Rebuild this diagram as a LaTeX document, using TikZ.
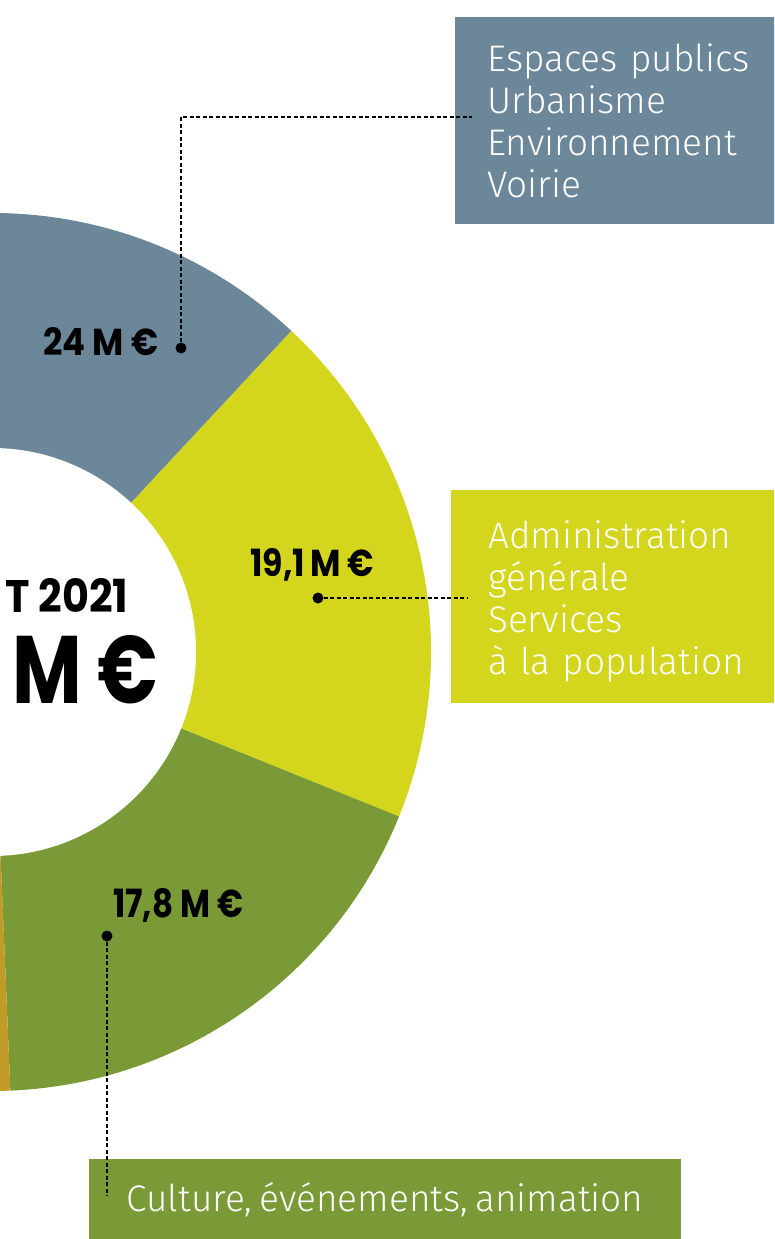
\documentclass[tikz,border=0pt]{standalone}
\usepackage{fontspec}
\setmainfont{Fira Sans}
\newfontfamily\lightf{Fira Sans Light}[WordSpace=0.7]
\newfontfamily\numf{Poppins}
\definecolor{cblue}{HTML}{6B8799}
\definecolor{cyel}{HTML}{D4D61D}
\definecolor{cgreen}{HTML}{799A36}
\definecolor{corange}{HTML}{C09B28}
\tikzset{
  catbox/.style={anchor=north west, text=white, inner ysep=0pt, align=left,
    font=\lightf\fontsize{37}{42}\selectfont},
  dotnode/.style={circle, fill=black, inner sep=0pt, minimum size=11pt},
  lead/.style={draw=black, line width=1.1pt, dash pattern=on 4pt off 2.5pt},
  valtext/.style={inner sep=0pt, anchor=base west, font=\numf\bfseries}
}
\begin{document}
\begin{tikzpicture}[x=1pt,y=-1pt]
\useasboundingbox (0,0) rectangle (774,1239);
\begin{scope}
\clip (0,0) rectangle (774,1239);
\coordinate (C) at (-8,652);
\fill[cblue]   (C) -- ++(-47:439) arc[start angle=-47, end angle=-200, radius=439] -- cycle;
\fill[cyel]    (C) -- ++(22:439) arc[start angle=22, end angle=-47, radius=439] -- cycle;
\fill[cgreen]  (C) -- ++(87.6:439) arc[start angle=87.6, end angle=22, radius=439] -- cycle;
\fill[corange] (C) -- ++(140:439) arc[start angle=140, end angle=87.6, radius=439] -- cycle;
\fill[white] (C) circle[radius=204];

\node[catbox, fill=cblue, minimum height=207pt, text width=290pt, inner xsep=32pt] (b1) at (455,17)
  {\rule{0pt}{28pt}Espaces publics\\Urbanisme\\Environnement\\Voirie};
\node[catbox, fill=cyel, minimum height=213pt, text width=290pt, inner xsep=37pt] (b2) at (451,490)
  {\rule{0pt}{37pt}Administration\\générale\\Services\\à la population};
\node[catbox, fill=cgreen, minimum height=80pt, minimum width=592pt, inner xsep=0pt, align=center] (b3) at (89,1159)
  {\rule{0pt}{30pt}Culture, événements, animation};

\node[dotnode] (d1) at (181,348) {};
\node[dotnode] (d2) at (318,598) {};
\node[dotnode] (d3) at (107,936) {};
\coordinate (c1) at (472,117);
\coordinate (c2) at (468,598);
\coordinate (c3) at (107,1196);
\draw[lead] (d1) |- (c1);
\draw[lead] (d2) -- (c2);
\draw[lead] (d3) -- (c3);

\node[valtext] (v1) at (43,355) {\resizebox{115pt}{28pt}{24 M €}};
\node[valtext] (v2) at (250,576) {\resizebox{124pt}{28pt}{19,1\,M €}};
\node[valtext] (v3) at (113,917) {\resizebox{130pt}{29pt}{17,8 M €}};
\node[valtext] (t1) at (5,612) {\resizebox{123pt}{34pt}{T 2021}};
\node[valtext] (t2) at (12,703) {\resizebox{146pt}{68pt}{M €}};
\end{scope}
\end{tikzpicture}
\end{document}
